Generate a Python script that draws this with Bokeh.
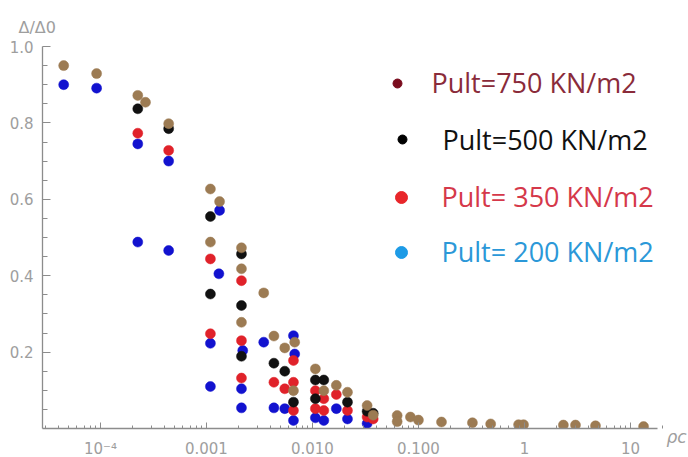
import math
from bokeh.plotting import figure
from bokeh.models import (ColumnDataSource, Range1d, FixedTicker, CustomJSTickFormatter,
                          PrintfTickFormatter, Label)
from bokeh.embed import file_html
from bokeh.resources import INLINE

# ---------------- data ----------------
blue_x = [4.5e-5, 9.2e-5, 2.25e-4, 2.25e-4, 4.4e-4, 4.4e-4, 1.33e-3, 1.31e-3, 1.09e-3, 1.09e-3,
          2.2e-3, 2.14e-3, 2.14e-3, 3.47e-3, 4.33e-3, 5.48e-3, 6.62e-3, 6.8e-3, 6.62e-3,
          0.01066, 0.0128, 0.0168, 0.0214, 0.0328]
blue_y = [0.900, 0.891, 0.745, 0.488, 0.700, 0.466, 0.571, 0.405, 0.223, 0.110,
          0.204, 0.104, 0.054, 0.226, 0.054, 0.052, 0.243, 0.195, 0.021,
          0.028, 0.021, 0.052, 0.025, 0.013]

red_x = [2.25e-4, 4.4e-4, 1.09e-3, 1.09e-3, 2.14e-3, 2.14e-3, 2.14e-3, 4.33e-3, 5.48e-3,
         6.62e-3, 6.62e-3, 6.62e-3, 0.01066, 0.01066, 0.0128, 0.0128, 0.0168, 0.0214,
         0.0328, 0.0374]
red_y = [0.773, 0.728, 0.444, 0.248, 0.387, 0.230, 0.132, 0.121, 0.104,
         0.178, 0.121, 0.047, 0.099, 0.052, 0.078, 0.047, 0.089, 0.047,
         0.030, 0.025]

black_x = [2.25e-4, 4.4e-4, 1.09e-3, 1.09e-3, 2.14e-3, 2.14e-3, 2.14e-3, 4.33e-3, 5.48e-3,
           6.62e-3, 0.01066, 0.01066, 0.0128, 0.0214, 0.0328, 0.0374]
black_y = [0.837, 0.785, 0.555, 0.352, 0.457, 0.322, 0.189, 0.171, 0.150,
           0.069, 0.127, 0.078, 0.127, 0.069, 0.045, 0.040]

brown_x = [4.5e-5, 9.2e-5, 2.25e-4, 2.66e-4, 4.4e-4, 1.09e-3, 1.33e-3, 1.09e-3, 2.14e-3,
           2.14e-3, 2.14e-3, 3.47e-3, 4.33e-3, 5.48e-3, 6.8e-3, 6.62e-3, 0.01066, 0.0128,
           0.0168, 0.0214, 0.0328, 0.0374, 0.063, 0.063, 0.084, 0.1, 0.165, 0.323, 0.48,
           0.88, 0.98, 2.33, 3.03, 4.68, 13.3]
brown_y = [0.950, 0.929, 0.872, 0.854, 0.798, 0.627, 0.594, 0.488, 0.473,
           0.418, 0.278, 0.355, 0.242, 0.211, 0.226, 0.099, 0.156, 0.099,
           0.113, 0.095, 0.060, 0.035, 0.034, 0.018, 0.030, 0.022, 0.017, 0.015, 0.012,
           0.010, 0.010, 0.009, 0.009, 0.007, 0.005]

x_ticks = [1e-4, 1e-3, 1e-2, 1e-1, 1, 10]
x_tick_labels = ["10\u207b\u2074", "0.001", "0.010", "0.100", "1", "10"]
y_ticks = [0.2, 0.4, 0.6, 0.8, 1.0]

legend_labels = ["Pult=750 KN/m2", "Pult=500 KN/m2", "Pult= 350 KN/m2", "Pult= 200 KN/m2"]
legend_marker_colors = ["#7A0C1E", "#000000", "#E8262A", "#1E9BE6"]
legend_text_colors = ["#8A2B3A", "#111111", "#D5384A", "#2B98D8"]

# ---------------- layout ----------------
W, H = 688, 457
AX_XMIN, AX_XMAX = 2.84e-5, 18.0      # extent of the drawn x axis
YMIN, YMAX = 0.0, 1.0
FL, FR, FT, FB = 42, 676, 46, 428      # frame edges in canvas pixels
PX_PER_DECADE = 106.0
L0 = math.log10(AX_XMIN)
XMAX_FRAME = 10 ** (L0 + (FR - FL) / PX_PER_DECADE)


def dx(px):
    return 10 ** (L0 + (px - FL) / PX_PER_DECADE)


def dy(py):
    return YMIN + (FB - py) / (FB - FT) * (YMAX - YMIN)


p = figure(frame_width=FR - FL, frame_height=FB - FT, x_axis_type="log",
           x_range=Range1d(AX_XMIN, XMAX_FRAME), y_range=Range1d(YMIN, YMAX),
           output_backend="svg", toolbar_location=None,
           min_border_left=FL, min_border_right=W - FR, min_border_top=FT,
           min_border_bottom=H - FB, title="\u0394/\u03940")
p.xgrid.visible = False
p.ygrid.visible = False
p.outline_line_color = None
p.background_fill_color = "white"

axis_col = "#8C8C8C"
lab_col = "#9E9E9E"

p.title.align = "left"
p.title.offset = -24
p.title.standoff = 20
p.title.text_font = "DejaVu Sans"
p.title.text_font_size = "16px"
p.title.text_font_style = "normal"
p.title.text_color = lab_col

for ax in (p.xaxis[0], p.yaxis[0]):
    ax.axis_line_color = axis_col
    ax.axis_line_width = 1.3
    ax.major_tick_line_color = axis_col
    ax.minor_tick_line_color = axis_col
    ax.major_tick_out = 0
    ax.minor_tick_out = 0
    ax.major_label_text_color = lab_col
    ax.major_label_text_font = "DejaVu Sans"
    ax.major_label_text_font_size = "15px"

minor_x = [k * 10.0 ** d for d in range(-5, 2) for k in range(2, 10)]
p.xaxis.ticker = FixedTicker(ticks=x_ticks, minor_ticks=minor_x)
p.xaxis.formatter = CustomJSTickFormatter(args=dict(labels=x_tick_labels), code="""
    const e = Math.round(Math.log10(tick));
    return labels[e + 4];
""")
p.xaxis.bounds = (AX_XMIN, AX_XMAX)
p.xaxis.major_tick_in = 6
p.xaxis.minor_tick_in = 3
p.xaxis.major_label_standoff = 11
p.xaxis.axis_label = "\u03c1c"
p.xaxis.axis_label_align = "end"
p.xaxis.axis_label_standoff = -34
p.xaxis.axis_label_text_font = "DejaVu Sans"
p.xaxis.axis_label_text_font_size = "17px"
p.xaxis.axis_label_text_font_style = "italic"
p.xaxis.axis_label_text_color = lab_col

minor_y = [round(0.05 * i, 2) for i in range(1, 20) if i % 4 != 0]
p.yaxis.ticker = FixedTicker(ticks=y_ticks, minor_ticks=minor_y)
p.yaxis.formatter = PrintfTickFormatter(format="%.1f")
p.yaxis.major_tick_in = 8
p.yaxis.minor_tick_in = 5
p.yaxis.major_label_standoff = 9

series = [(blue_x, blue_y, "#1212CF"), (red_x, red_y, "#E0222A"),
          (black_x, black_y, "#111111"), (brown_x, brown_y, "#9C7B53")]
for xs, ys, c in series:
    src = ColumnDataSource(dict(x=xs, y=ys))
    p.scatter("x", "y", source=src, size=10, fill_color=c, line_color=c, line_width=0.5)

# legend drawn as text
leg_marker_px = [(397, 83), (402, 139), (401, 197), (401, 252)]
leg_text_px = [(431, 82), (442, 139), (441, 196), (441, 251)]
leg_sizes = [9, 9, 12, 12]
for i, lab in enumerate(legend_labels):
    mx, my = leg_marker_px[i]
    p.scatter([dx(mx)], [dy(my)], size=leg_sizes[i], fill_color=legend_marker_colors[i],
              line_color=legend_marker_colors[i])
    tx, ty = leg_text_px[i]
    p.add_layout(Label(x=dx(tx), y=dy(ty), text=lab, text_color=legend_text_colors[i],
                       text_font="Open Sans", text_font_size="27px",
                       text_baseline="middle", text_align="left"))

open("out.html", "w").write(file_html(p, INLINE))
